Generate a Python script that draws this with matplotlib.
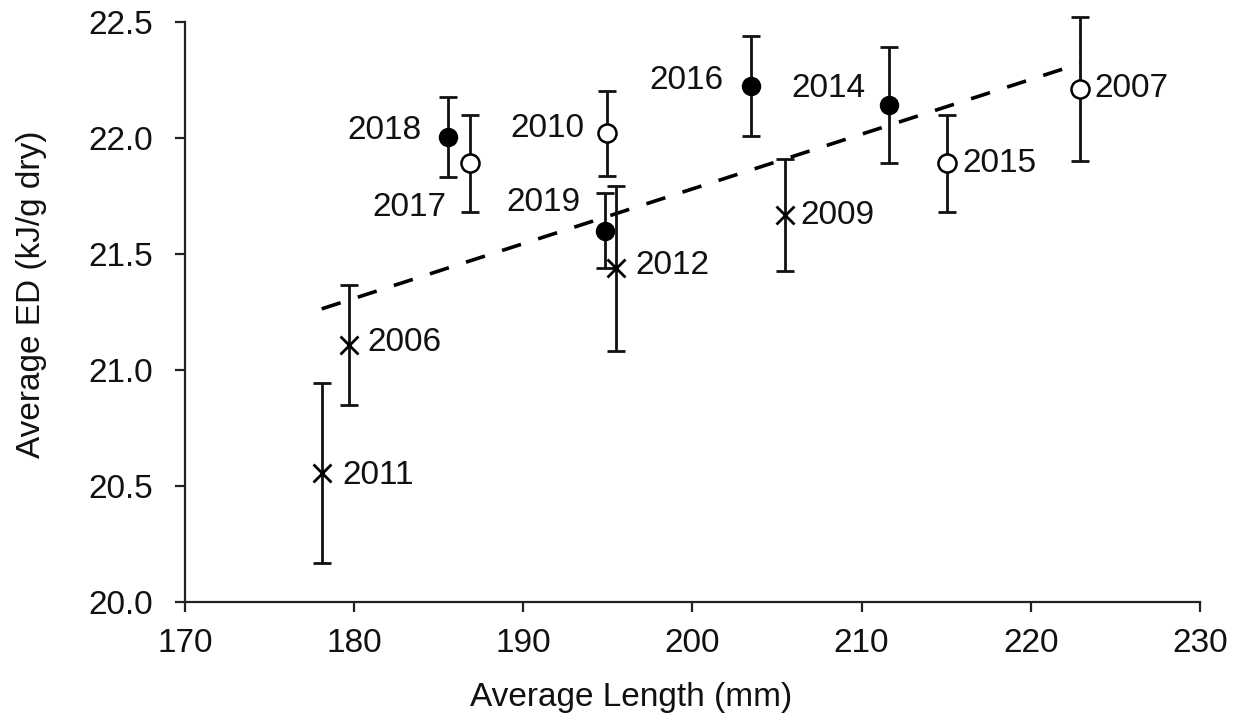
import matplotlib
matplotlib.use("Agg")
import matplotlib.pyplot as plt
import numpy as np

plt.rcParams['font.family'] = ['Liberation Sans', 'DejaVu Sans']

# Yearly averages: length (mm), energy density (kJ/g dry) and its error
years = ['2018', '2019', '2016', '2014',
         '2017', '2010', '2015', '2007',
         '2012', '2009', '2006', '2011']
length = [185.54, 194.85, 203.49, 211.62,
          186.84, 194.92, 215.08, 222.90,
          195.50, 205.46, 179.69, 178.08]
ed = [22.006, 21.600, 22.224, 22.142,
      21.891, 22.020, 21.891, 22.210,
      21.438, 21.668, 21.108, 20.555]
ed_err = [0.172, 0.162, 0.214, 0.250,
          0.210, 0.184, 0.210, 0.310,
          0.357, 0.243, 0.257, 0.387]
group = ['filled'] * 4 + ['open'] * 4 + ['cross'] * 4

# label offsets (px) and alignment for each year's annotation
label_dx = [-26, -25, -28, -23, -23, -22, 15, 15, 19, 16, 18, 21]
label_dy = [6, 28, 6, 17, -44, 5, 0, 1, 3, 0, 2, -2]
label_ha = ['right'] * 6 + ['left'] * 6

styles = {
    'filled': dict(marker='o', ms=12.5, mfc='black', mec='black', mew=1.5),
    'open': dict(marker='o', ms=13, mfc='white', mec='black', mew=1.8),
    'cross': dict(marker='x', ms=13, mfc='none', mec='black', mew=2.0),
}

fig = plt.figure(figsize=(12.42, 7.17), dpi=100)
ax = fig.add_axes([0.149, 0.1604, 0.817, 0.8089])

# linear trend through all years
coef = np.polyfit(length, ed, 1)
xs = np.array([min(length), max(length)])
ax.plot(xs, np.polyval(coef, xs), color='black', lw=2.6,
        linestyle=(0, (5.5, 5)), zorder=1)

for i in range(len(years)):
    eb = ax.errorbar(length[i], ed[i], yerr=ed_err[i], fmt='none', ecolor='#111111',
                     elinewidth=2.0, capsize=6.3, capthick=2.0, zorder=2)
    for art in eb.lines[1] + eb.lines[2]:
        art.set_clip_on(False)
    ax.plot(length[i], ed[i], linestyle='none', zorder=3, clip_on=False,
            **styles[group[i]])
    ax.annotate(years[i], (length[i], ed[i]),
                xytext=(label_dx[i] * 0.72, label_dy[i] * 0.72),
                textcoords='offset points', ha=label_ha[i], va='center',
                fontsize=24, color='#111111')

ax.set_xlim(170, 230)
ax.set_ylim(20.0, 22.5)
ax.set_xticks(np.arange(170, 231, 10))
ax.set_yticks(np.arange(20.0, 22.51, 0.5))
ax.yaxis.set_major_formatter(matplotlib.ticker.FormatStrFormatter('%.1f'))

for side in ['top', 'right']:
    ax.spines[side].set_visible(False)
for side in ['left', 'bottom']:
    ax.spines[side].set_linewidth(1.6)
    ax.spines[side].set_color('#222222')

ax.tick_params(axis='both', direction='out', length=7, width=1.6,
               color='#222222', labelsize=24, labelcolor='#111111')
ax.tick_params(axis='x', pad=12)
ax.tick_params(axis='y', pad=16)

ax.set_xlabel('Average Length (mm)', fontsize=24, color='#111111', va='center')
ax.set_ylabel('Average ED (kJ/g dry)', fontsize=24, color='#111111', va='center')
ax.xaxis.set_label_coords(0.44, -0.164)
ax.yaxis.set_label_coords(-0.151, 0.53)

fig.savefig('out.png', dpi=100, facecolor='white')
